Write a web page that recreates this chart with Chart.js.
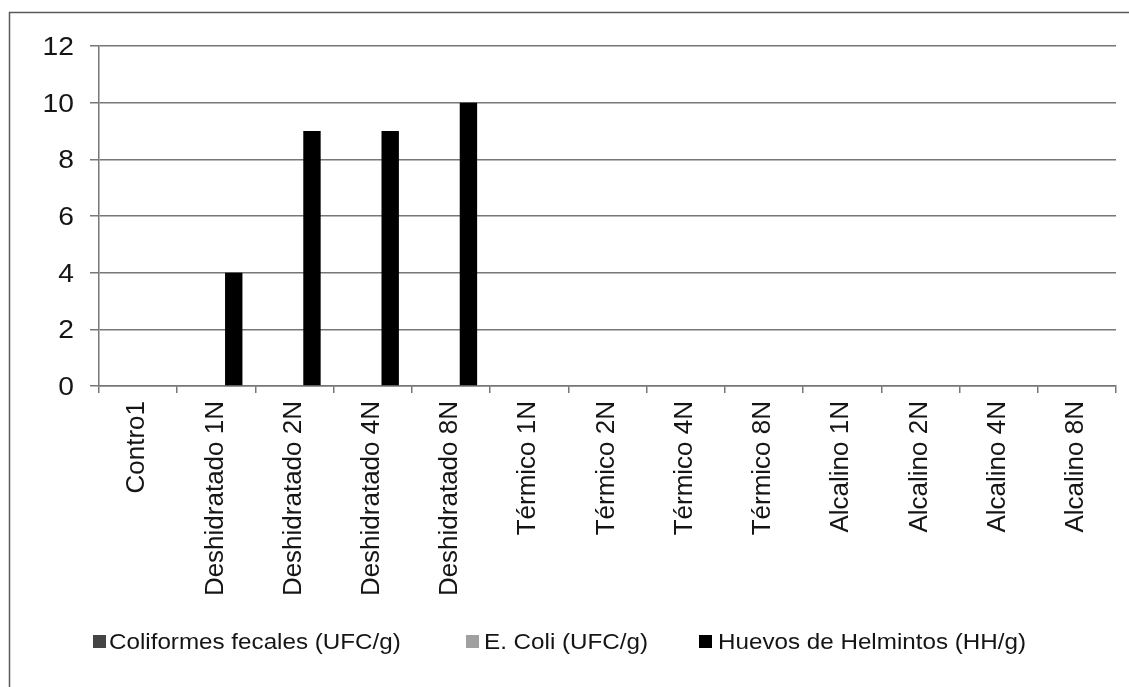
<!DOCTYPE html>
<html>
<head>
<meta charset="utf-8">
<script src="https://cdn.jsdelivr.net/npm/chart.js@4/dist/chart.umd.min.js"></script>
<style>
html,body{margin:0;padding:0;background:#fff;}
canvas{display:block;}
</style>
</head>
<body>
<canvas id="c" width="1129" height="687"></canvas>
<script>
const categories = ["Contro1","Deshidratado 1N","Deshidratado 2N","Deshidratado 4N","Deshidratado 8N","Térmico 1N","Térmico 2N","Térmico 4N","Térmico 8N","Alcalino 1N","Alcalino 2N","Alcalino 4N","Alcalino 8N"];
const coliformes = [0,0,0,0,0,0,0,0,0,0,0,0,0];
const ecoli = [0,0,0,0,0,0,0,0,0,0,0,0,0];
const huevos = [0,4,9,9,10,0,0,0,0,0,0,0,0];
const seriesNames = ["Coliformes fecales (UFC/g)","E. Coli (UFC/g)","Huevos de Helmintos (HH/g)"];
const seriesColors = ["#454545","#a0a0a0","#000000"];
const yTicks = [0,2,4,6,8,10,12];

const FONT = "'Liberation Sans', Arial, Helvetica, sans-serif";
const TEXT = '#151515';

const textPlugin = {
  id: 'texts',
  afterDraw(chart) {
    const ctx = chart.ctx;
    ctx.save();
    // outer frame
    ctx.strokeStyle = '#5a5a5a';
    ctx.lineWidth = 1.5;
    ctx.strokeRect(9.5, 12.5, 1300, 1000);

    // y tick labels
    const ys = chart.scales.y;
    ctx.fillStyle = TEXT;
    ctx.font = "25px " + FONT;
    ctx.textAlign = 'right';
    ctx.textBaseline = 'middle';
    ys.ticks.forEach(t => {
      const py = ys.getPixelForValue(t.value);
      ctx.save();
      ctx.translate(74, py + 2);
      ctx.scale(1.13, 1);
      ctx.fillText(String(t.value), 0, 0);
      ctx.restore();
    });

    // x category labels (rotated)
    const xs = chart.scales.x;
    ctx.font = "26px " + FONT;
    ctx.textAlign = 'right';
    ctx.textBaseline = 'middle';
    categories.forEach((c, i) => {
      const px = xs.getPixelForValue(i);
      ctx.save();
      ctx.translate(px - 1, 401);
      ctx.rotate(-Math.PI / 2);
      ctx.fillText(c, 0, 0);
      ctx.restore();
    });

    // legend
    const items = [
      {box: 93, text: 109},
      {box: 466, text: 484},
      {box: 699, text: 718}
    ];
    ctx.font = "22px " + FONT;
    ctx.textAlign = 'left';
    ctx.textBaseline = 'alphabetic';
    chart.data.datasets.forEach((ds, i) => {
      const it = items[i];
      ctx.fillStyle = ds.backgroundColor;
      ctx.fillRect(it.box, 635, 13, 13);
      ctx.fillStyle = TEXT;
      ctx.save();
      ctx.translate(it.text, 649);
      ctx.scale(1.1, 1);
      ctx.fillText(ds.label, 0, 0);
      ctx.restore();
    });
    ctx.restore();
  }
};

new Chart(document.getElementById('c'), {
  type: 'bar',
  data: {
    labels: categories,
    datasets: [
      {label: seriesNames[0], data: coliformes, backgroundColor: seriesColors[0]},
      {label: seriesNames[1], data: ecoli, backgroundColor: seriesColors[1]},
      {label: seriesNames[2], data: huevos, backgroundColor: seriesColors[2]}
    ]
  },
  options: {
    responsive: false,
    animation: false,
    layout: {padding: {left: 0, right: 13, top: 46, bottom: 0}},
    datasets: {bar: {categoryPercentage: 0.667, barPercentage: 1.0}},
    plugins: {legend: {display: false}, tooltip: {enabled: false}},
    scales: {
      x: {
        grid: {display: true, drawOnChartArea: false, drawTicks: true, tickLength: 7, color: '#777', lineWidth: 1.5, offset: true},
        border: {display: true, color: '#777', width: 1.5},
        ticks: {
          minRotation: 90, maxRotation: 90, autoSkip: false, padding: 4,
          color: 'rgba(0,0,0,0)', font: {family: FONT, size: 26}
        },
        afterFit(scale) { scale.height = 687 - 386; }
      },
      y: {
        min: 0, max: 12,
        afterBuildTicks(scale) { scale.ticks = yTicks.map(v => ({value: v})); },
        grid: {color: '#777', lineWidth: 1.5, tickLength: 9},
        border: {display: true, color: '#777', width: 1.5},
        ticks: {padding: 16, color: 'rgba(0,0,0,0)', font: {family: FONT, size: 25}},
        afterFit(scale) { scale.width = 99; }
      }
    }
  },
  plugins: [textPlugin]
});
</script>
</body>
</html>
